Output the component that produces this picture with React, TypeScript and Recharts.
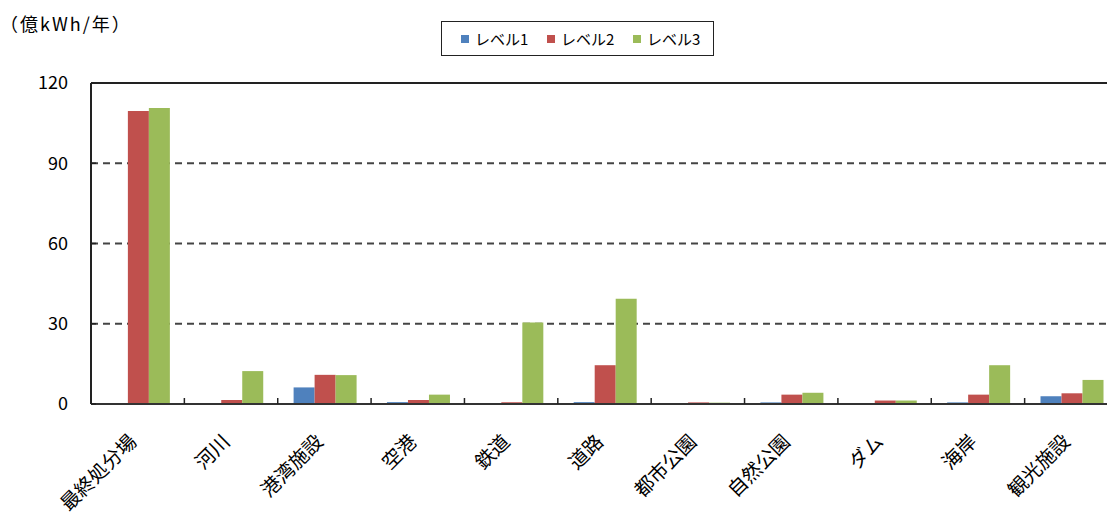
import React from 'react';
import { BarChart, Bar, XAxis, YAxis, CartesianGrid, ReferenceLine } from 'recharts';

const categories = ['最終処分場', '河川', '港湾施設', '空港', '鉄道', '道路', '都市公園', '自然公園', 'ダム', '海岸', '観光施設'];
const level1 = [0, 0, 6.2, 0.7, 0, 0.7, 0, 0.6, 0, 0.6, 2.9];
const level2 = [109.5, 1.5, 10.9, 1.5, 0.7, 14.5, 0.6, 3.5, 1.3, 3.5, 4.0];
const level3 = [110.7, 12.3, 10.8, 3.5, 30.5, 39.3, 0.5, 4.2, 1.3, 14.5, 9.0];
const yTicks = [0, 30, 60, 90, 120];
const seriesKeys = ['l1', 'l2', 'l3'];
const seriesNames = ['レベル1', 'レベル2', 'レベル3'];
const seriesColors = ['#4F81BD', '#C0504D', '#9BBB59'];
const unitLabel = '（億kWh/年）';

const data = categories.map((name, i) => ({
  name,
  l1: level1[i],
  l2: level2[i],
  l3: level3[i],
}));

const FONT = '"Noto Sans CJK JP", "Noto Sans", sans-serif';
const PLOT_LEFT = 91;
const PLOT_WIDTH = 1027;
const BAND = PLOT_WIDTH / categories.length;

const CategoryTick = (props: any) => {
  const { x, y, payload } = props;
  return (
    <g transform={`translate(${x},${y})`}>
      <line x1={BAND / 2} x2={BAND / 2} y1={-6} y2={0} stroke="#222" strokeWidth={1.5} />
      <text
        x={0}
        y={39}
        textAnchor="end"
        transform="rotate(-45 0 39)"
        fontSize={19.5}
        fill="#000"
        fontFamily={FONT}
      >
        {payload.value}
      </text>
    </g>
  );
};

const ValueTick = (props: any) => {
  const { x, y, payload } = props;
  return (
    <g>
      <line x1={PLOT_LEFT} x2={PLOT_LEFT + 5} y1={y} y2={y} stroke="#222" strokeWidth={1.5} />
      <text x={x} y={y} dy="0.36em" textAnchor="end" fontSize={18} fill="#000" fontFamily={FONT}>
        {payload.value}
      </text>
    </g>
  );
};

const App = () => {
  return (
    <div
      style={{
        position: 'fixed',
        left: 0,
        top: 0,
        width: 1107,
        height: 515,
        overflow: 'hidden',
        background: '#fff',
        fontFamily: FONT,
      }}
    >
      <div
        style={{
          position: 'absolute',
          left: 0,
          top: 12,
          fontSize: 18,
          lineHeight: '22px',
          letterSpacing: 2,
          color: '#000',
        }}
      >
        {unitLabel}
      </div>

      <div
        style={{
          position: 'absolute',
          left: 441,
          top: 21,
          width: 273,
          height: 35,
          boxSizing: 'border-box',
          border: '1px solid #222',
          display: 'flex',
          alignItems: 'center',
          paddingLeft: 19,
        }}
      >
        {seriesNames.map((name, i) => (
          <div key={name} style={{ display: 'flex', alignItems: 'center', width: i < 2 ? 86 : 'auto' }}>
            <span style={{ width: 8, height: 8, background: seriesColors[i], marginRight: 6 }} />
            <span style={{ fontSize: 15, lineHeight: '18px', color: '#000' }}>{name}</span>
          </div>
        ))}
      </div>

      <BarChart
        width={PLOT_LEFT + PLOT_WIDTH + 2}
        height={515}
        data={data}
        margin={{ top: 83, right: 2, bottom: 0, left: 0 }}
        barCategoryGap="17%"
        barGap={0}
      >
        <CartesianGrid vertical={false} stroke="#444" strokeWidth={2} strokeDasharray="7 5" />
        <XAxis
          dataKey="name"
          height={111}
          tickSize={0}
          tickMargin={0}
          tickLine={false}
          interval={0}
          axisLine={{ stroke: '#333', strokeWidth: 2 }}
          tick={<CategoryTick />}
        />
        <YAxis
          width={PLOT_LEFT}
          domain={[0, 120]}
          ticks={yTicks}
          tickSize={6}
          tickMargin={17}
          tickLine={false}
          axisLine={{ stroke: '#222', strokeWidth: 2 }}
          tick={<ValueTick />}
        />
        {seriesKeys.map((key, i) => (
          <Bar key={key} dataKey={key} name={seriesNames[i]} fill={seriesColors[i]} isAnimationActive={false} />
        ))}
        <ReferenceLine y={120} stroke="#222" strokeWidth={2} />
      </BarChart>
    </div>
  );
};

export default App;
